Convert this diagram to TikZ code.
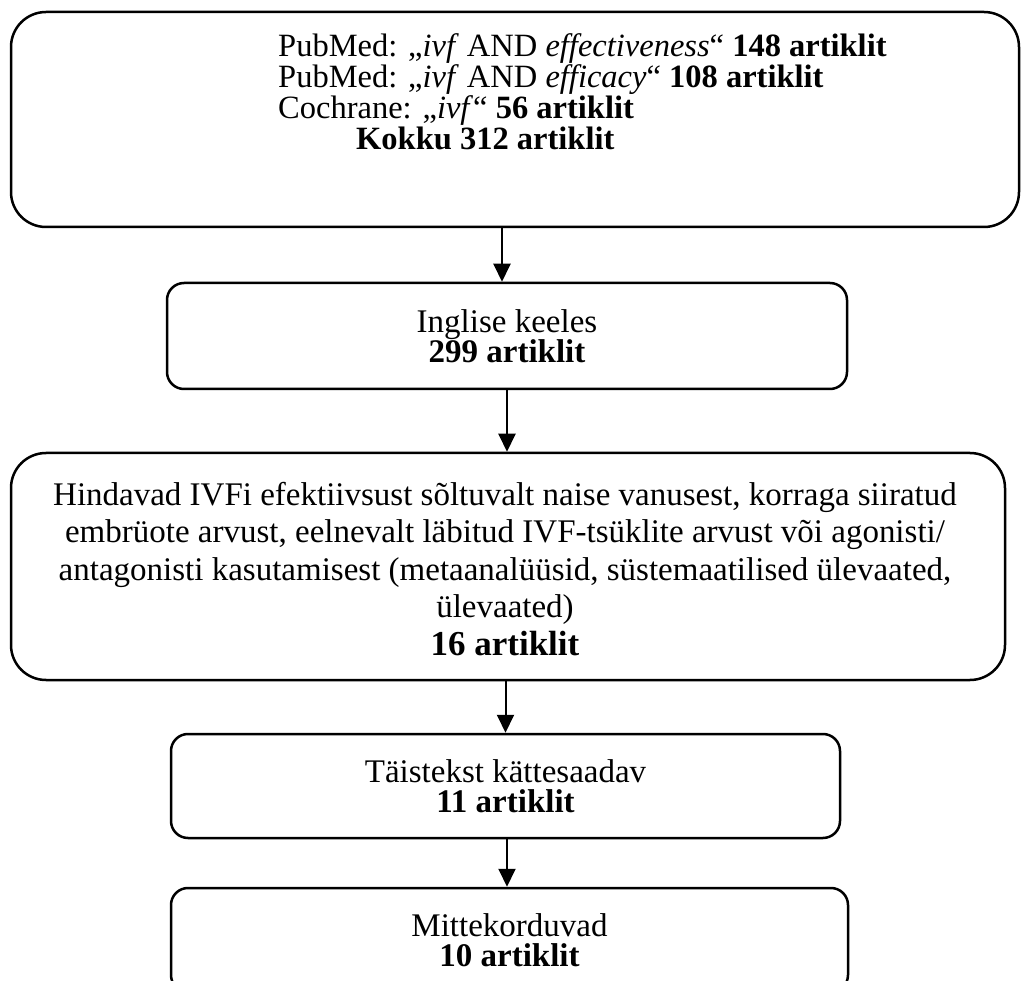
\documentclass[tikz,border=0pt]{standalone}
\usepackage{fontspec}
\setmainfont{Liberation Serif}
\usetikzlibrary{arrows.meta}

\setlength{\lineskiplimit}{-100pt}

\tikzset{
	bigbox/.style={draw, line width=2.5pt, rounded corners=35pt, inner sep=0pt},
	smallbox/.style={draw, line width=2.5pt, rounded corners=17pt, inner sep=0pt, align=center,
		font=\fontsize{33}{30}\selectfont},
	boxtext/.style={inner sep=0pt, font=\fontsize{33}{37.5}\selectfont},
	flow/.style={line width=2pt, -{Triangle[length=18pt,width=17pt]}},
}

\begin{document}
\begin{tikzpicture}[x=1pt, y=-1pt]
		\useasboundingbox (0,0) rectangle (1021,981);
		\node[bigbox, minimum width=1008pt, minimum height=215pt] (search) at (515,119.5) {};
		\node[boxtext, anchor=base west, align=left,
		font=\fontsize{32.5}{31}\selectfont] (query) at (278,150)
		{PubMed: „\textit{ivf} AND \textit{effectiveness}“ \textbf{148 artiklit}\\
		PubMed: „\textit{ivf} AND \textit{efficacy}“ \textbf{108 artiklit}\\
		Cochrane: „\textit{ivf}“ \textbf{56 artiklit}\\
		\hspace*{78pt}\textbf{Kokku 312 artiklit}};
		\node[smallbox, minimum width=680pt, minimum height=106pt] (english) at (507,336)
		{Inglise keeles\\ \textbf{299 artiklit}};
		\node[bigbox, minimum width=994pt, minimum height=227pt] (assess) at (508,566.5) {};
		\node[boxtext, anchor=base, align=center] (assesstext) at (505,655)
		{Hindavad IVFi efektiivsust sõltuvalt naise vanusest, korraga siiratud\\
		embrüote arvust, eelnevalt läbitud IVF-tsüklite arvust või agonisti/\\
		antagonisti kasutamisest (metaanalüüsid, süstemaatilised ülevaated,\\
		ülevaated)\\
		{\fontsize{35}{37.5}\selectfont\bfseries 16 artiklit}};
		\node[smallbox, minimum width=669pt, minimum height=104pt] (fulltext) at (505.5,786)
		{Täistekst kättesaadav\\ \textbf{11 artiklit}};
		\node[smallbox, minimum width=677pt, minimum height=104pt] (unique) at (509.5,940)
		{Mittekorduvad\\ \textbf{10 artiklit}};
		% arrows between the steps
		\draw[flow] ([xshift=-5pt]english.north |- search.south) -- ([xshift=-5pt]english.north);
		\draw[flow] (english.south) -- (english.south |- assess.north);
		\draw[flow] (fulltext.north |- assess.south) -- (fulltext.north);
		\draw[flow] ([xshift=1.5pt]fulltext.south) -- ([xshift=1.5pt]fulltext.south |- unique.north);
\end{tikzpicture}
\end{document}
